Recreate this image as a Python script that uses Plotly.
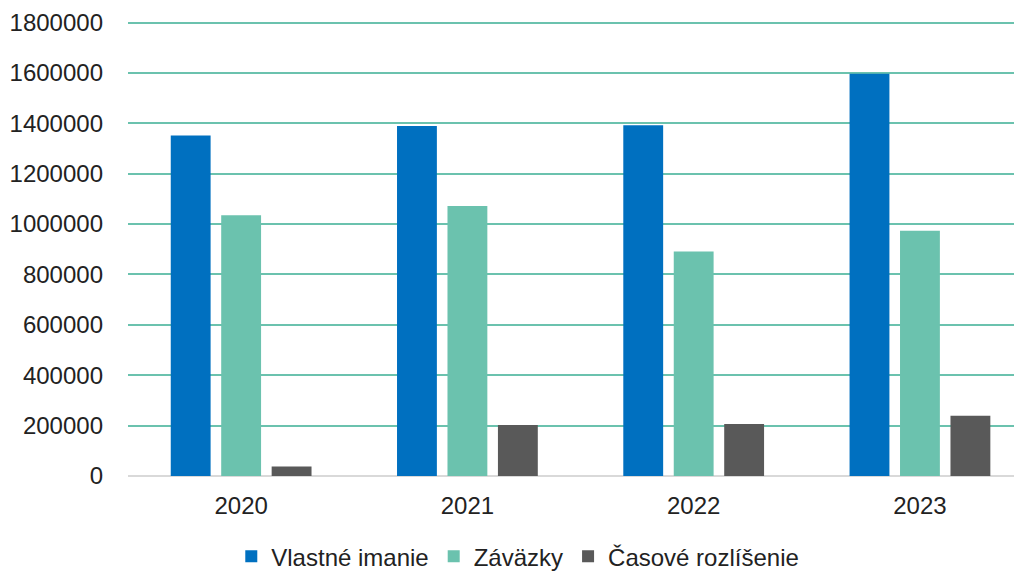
import plotly.graph_objects as go

years = ["2020", "2021", "2022", "2023"]
vlastne_imanie = [1352000, 1389000, 1392000, 1597000]
zavazky = [1035000, 1072000, 891000, 973000]
casove_rozlisenie = [38000, 202000, 206000, 239000]
y_ticks = [0, 200000, 400000, 600000, 800000, 1000000, 1200000, 1400000, 1600000, 1800000]

series = [
    ("Vlastné imanie", vlastne_imanie, "#0070C0"),
    ("Záväzky", zavazky, "#6BC2AE"),
    ("Časové rozlíšenie", casove_rozlisenie, "#595959"),
]

fig = go.Figure()
for name, vals, col in series:
    fig.add_trace(go.Bar(x=years, y=vals, name=name, marker=dict(color=col, line=dict(width=0))))

font = "Liberation Sans, Arial, sans-serif"
# page body has a small margin; size figure so it fits the 1022x571 window
fig.update_layout(
    width=1014, height=563,
    margin=dict(l=120, r=0, t=11.5, b=94.5, autoexpand=False),
    paper_bgcolor="white", plot_bgcolor="white",
    barmode="group", bargap=0.331, bargroupgap=0.21,
    font=dict(family=font, size=24, color="#222222"),
    showlegend=True,
    legend=dict(orientation="h", x=0.436, xanchor="center", y=-0.177, yanchor="middle",
                font=dict(size=24, color="#222222"), itemwidth=30, traceorder="normal"),
    xaxis=dict(type="category", range=[-0.5, 3.451], showgrid=False, showline=False,
               ticks="", ticklabelstandoff=13, zeroline=False, automargin=False),
    yaxis=dict(range=[0, 1810000], tickvals=y_ticks, ticktext=[str(v) for v in y_ticks],
               showgrid=True, gridcolor="#6BC2AE", gridwidth=1.5, zeroline=True,
               zerolinecolor="#D9D9D9", zerolinewidth=2, showline=False, ticks="",
               ticklabelstandoff=24, automargin=False),
)
fig.write_html("out.html")
